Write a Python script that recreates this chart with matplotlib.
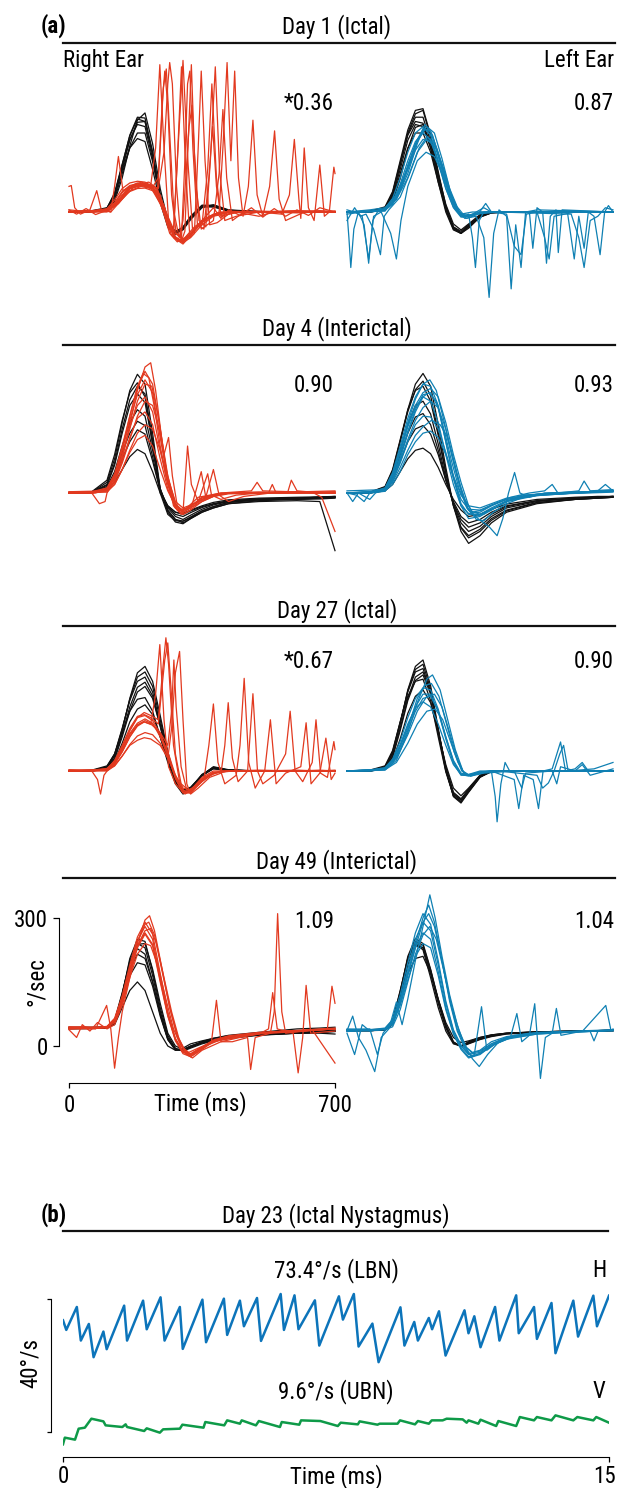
import matplotlib.pyplot as plt
from matplotlib import font_manager
from matplotlib.lines import Line2D

# head impulse sample times (ms); head traces and smooth eye traces use this grid
HEAD_T = [0, 60, 100, 120, 140, 160, 180, 200, 220, 240, 260, 280, 300, 320, 350, 380, 420, 500, 600, 660, 700]

# ---- Day 1 (ictal) ----
d1_head_right = [
    [0, 1, 6, 40, 110, 180, 222, 220, 140, 40, -30, -50, -38, -12, 15, 16, 4, 0, 0, 0, 0],
    [0, 2, 8, 42, 108, 170, 205, 200, 125, 35, -30, -48, -35, -10, 16, 14, 3, 1, 0, 0, 0],
    [0, 0, 5, 30, 90, 150, 185, 185, 118, 32, -25, -45, -36, -12, 14, 12, 2, 0, 0, 0, 0],
    [0, 3, 10, 40, 98, 150, 172, 165, 100, 22, -35, -52, -40, -15, 12, 12, 4, 1, 0, 0, 0],
    [0, 1, 4, 25, 80, 155, 215, 232, 160, 55, -20, -50, -42, -18, 10, 17, 5, 1, 0, 0, 0],
    [0, 1, 7, 36, 100, 168, 210, 212, 140, 40, -28, -48, -38, -12, 15, 15, 3, 0, 0, 0, 0],
    [0, 2, 9, 45, 112, 178, 218, 212, 132, 36, -32, -50, -40, -14, 14, 14, 3, 0, 0, 0, 0],
]
d1_band_right = [
    [0, 3, 6, 22, 48, 62, 66, 64, 58, 30, -20, -58, -70, -55, -25, -8, 0, 2, 0, 3, 0],
    [5, 0, 4, 18, 40, 55, 60, 62, 55, 25, -25, -62, -72, -60, -30, -10, -2, 0, 3, 0, 2],
    [0, 2, 8, 28, 55, 68, 72, 70, 60, 35, -10, -50, -65, -50, -20, -5, 0, 0, -2, 0, 0],
    [2, 0, 3, 15, 35, 48, 55, 56, 50, 20, -28, -60, -68, -52, -22, -6, 2, 0, 0, 2, 0],
]
d1_eye_right = [
    [(0, 0), (80, 2), (100, 5), (120, 20), (140, 45), (160, 60), (180, 68), (200, 66), (215, 62), (228, 150),
     (239, 345), (250, 150), (262, -20), (275, -55), (285, 120), (296, 340), (307, 100), (318, -60), (330, -50),
     (340, 150), (348, 330), (358, 120), (370, -30), (390, -25), (420, -5), (460, 2), (520, 0), (600, 3), (700, 0)],
    [(0, 0), (100, 3), (130, 25), (150, 50), (170, 62), (190, 70), (210, 64), (235, 55), (250, 140), (260, 300),
     (265, 350), (272, 300), (283, 60), (295, -70), (305, -45), (313, 150), (322, 345), (330, 140), (342, -20),
     (360, -35), (372, 120), (385, 340), (396, 100), (410, -20), (440, -10), (500, 0), (700, 0)],
    [(0, 0), (100, 0), (130, 20), (160, 55), (190, 62), (220, 55), (245, 10), (265, -50), (285, -70), (305, -60),
     (330, -35), (360, -15), (395, 0), (405, 150), (416, 350), (426, 120), (436, 330), (446, 80), (458, -10),
     (472, 60), (484, 215), (495, 40), (510, -10), (528, 60), (541, 190), (553, 30), (570, -20), (620, 0), (700, 0)],
    [(0, 0), (90, 5), (110, 0), (140, 30), (170, 58), (200, 66), (225, 60), (250, 15), (275, -60), (300, -75),
     (320, -55), (350, -20), (400, 0), (500, 0), (560, -5), (580, 40), (593, 170), (605, 30), (610, -15),
     (619, 150), (630, 10), (645, -20), (660, 110), (672, -10), (685, 0), (697, 105), (700, 90)],
    [(0, 60), (6, 62), (15, 10), (30, -5), (55, 5), (73, 50), (85, 5), (110, 0), (120, 60), (130, 130), (142, 50),
     (160, 58), (185, 65), (210, 70), (232, 55), (255, 0), (280, -60), (300, -68), (330, -40), (370, -10),
     (420, 0), (700, 2)],
    [(0, 0), (100, 2), (130, 25), (160, 55), (190, 65), (215, 60), (240, 40), (262, -40), (275, -40), (287, 150),
     (300, 355), (312, 130), (325, -40), (350, -30), (365, 100), (376, 300), (388, 80), (400, -10), (440, 0),
     (500, -10), (540, 0), (700, 0)],
    [(0, 0), (100, 3), (130, 22), (160, 55), (190, 64), (220, 58), (235, 80), (245, 250), (252, 330), (260, 250),
     (270, 40), (282, -50), (296, -60), (305, 120), (312, 300), (318, 330), (326, 150), (338, -30), (355, -40),
     (368, 80), (378, 200), (388, 60), (400, -10), (440, 0), (700, 0)],
    [(0, 0), (100, 2), (130, 20), (160, 50), (190, 60), (215, 55), (232, 40), (240, 150), (248, 290), (256, 335),
     (264, 200), (276, 0), (290, -60), (300, -20), (316, 200), (324, 250), (334, 60), (348, -40), (380, -20),
     (395, 90), (405, 240), (415, 80), (430, -20), (460, 0), (700, 0)],
    [(0, 5), (20, -5), (45, 8), (70, -6), (100, 4), (130, 24), (160, 56), (190, 64), (220, 58), (245, 15),
     (270, -55), (295, -70), (320, -55), (350, -20), (380, 10), (400, -15), (420, 5), (450, -8), (480, 10),
     (510, -12), (540, 8), (570, -10), (600, 5), (630, -8), (660, 10), (700, 0)],
]
d1_head_left = [
    [0, 0, 8, 40, 110, 185, 230, 238, 175, 90, 10, -38, -50, -35, -12, -2, 0, 0, 0, 0, 0],
    [0, 1, 10, 45, 115, 180, 212, 208, 150, 70, 0, -42, -50, -32, -10, -2, 0, 0, 0, 0, 0],
    [0, 0, 6, 32, 90, 150, 185, 185, 140, 70, 8, -35, -45, -30, -8, 0, 0, 0, 0, 0, 0],
    [0, 2, 12, 48, 120, 192, 238, 242, 180, 95, 15, -35, -50, -38, -12, -2, 0, 0, 0, 0, 0],
    [0, 0, 5, 25, 78, 148, 198, 205, 160, 88, 18, -28, -42, -28, -6, 0, 0, 0, 0, 0, 0],
    [0, 1, 9, 42, 112, 182, 222, 222, 165, 80, 5, -40, -50, -34, -10, -1, 0, 0, 0, 0, 0],
    [0, 0, 7, 36, 100, 168, 205, 200, 150, 78, 10, -36, -48, -32, -9, -1, 0, 0, 0, 0, 0],
]
d1_band_left = [
    [0, 0, 5, 20, 55, 110, 160, 195, 190, 140, 75, 20, -8, -10, -3, 0, 0, 0, 0, 0, 0],
    [0, 2, 6, 25, 65, 120, 165, 185, 170, 115, 55, 12, -10, -8, 0, 0, 0, 0, 0, 0, 0],
    [0, 0, 4, 18, 50, 100, 145, 170, 165, 120, 65, 18, -5, -8, -2, 0, 0, 0, 0, 0, 0],
    [0, 1, 8, 32, 80, 140, 185, 200, 180, 120, 55, 10, -12, -10, -2, 0, 0, 0, 0, 0, 0],
]
d1_eye_left = [
    [(0, 0), (5, -60), (10, -130), (18, -40), (30, 0), (45, -30), (57, -120), (68, -20), (80, 0), (100, 8),
     (130, 30), (160, 90), (185, 160), (205, 205), (225, 180), (245, 120), (265, 55), (285, 10), (305, -10),
     (320, -5), (330, -60), (338, -130), (348, -20), (360, 0), (420, 0), (700, 0)],
    [(0, -20), (10, -5), (20, 10), (35, -10), (50, -5), (70, -40), (88, -100), (98, -10), (110, 5), (140, 35),
     (165, 90), (190, 150), (210, 175), (230, 160), (250, 110), (270, 50), (290, 5), (310, -15), (340, -10),
     (360, -60), (374, -200), (386, -50), (400, 5), (420, -10), (432, -180), (444, -30), (458, -130), (470, 0),
     (500, 5), (700, 0)],
    [(0, 5), (20, 0), (40, -10), (57, -110), (70, -10), (90, 0), (115, -50), (130, -110), (142, -20), (160, 60),
     (185, 120), (208, 140), (230, 130), (255, 80), (280, 25), (300, -5), (330, 0), (480, 0), (489, -85),
     (500, 10), (515, 0), (525, -120), (535, -10), (550, 5), (556, -95), (566, 5), (700, 0)],
    [(0, 0), (60, 5), (100, 10), (130, 40), (160, 105), (185, 170), (205, 195), (225, 175), (245, 115), (265, 50),
     (285, 8), (305, -12), (330, -5), (360, 10), (380, 0), (580, 0), (598, -110), (610, -10), (624, -85),
     (635, 0), (650, -10), (666, -100), (678, 0), (688, 15), (700, 0)],
    [(0, -5), (40, 0), (100, 5), (130, 30), (160, 80), (185, 140), (210, 170), (235, 150), (255, 100), (275, 40),
     (295, 0), (315, -15), (345, -5), (365, 20), (380, 0), (420, -5), (440, -80), (458, -100), (472, -5),
     (500, 0), (520, -60), (532, -110), (545, -10), (600, 0), (700, 0)],
    [(0, 0), (100, 2), (130, 38), (160, 100), (185, 165), (210, 200), (230, 185), (250, 125), (270, 55),
     (290, 12), (310, -10), (340, -5), (400, 0), (590, -5), (610, -60), (624, -130), (640, -20), (660, -10),
     (680, 10), (700, 5)],
]

# ---- Day 4 (interictal) ----
d4_head_right = [
    [0, 2, 25, 80, 165, 240, 278, 255, 140, 10, -45, -68, -72, -60, -45, -35, -25, -18, -15, -14, -12],
    [0, 3, 30, 90, 170, 235, 258, 225, 115, 0, -50, -65, -66, -58, -42, -32, -22, -16, -14, -12, -10],
    [0, 1, 18, 65, 140, 205, 232, 212, 115, 10, -40, -62, -70, -60, -45, -35, -25, -20, -18, -20, -135],
    [0, 2, 15, 50, 110, 165, 195, 180, 100, 10, -35, -55, -62, -52, -38, -28, -20, -15, -12, -10, -8],
    [0, 0, 10, 35, 80, 120, 148, 138, 75, 5, -30, -45, -50, -42, -32, -25, -18, -14, -12, -10, -10],
    [0, 1, 8, 25, 55, 85, 102, 92, 50, 0, -30, -45, -48, -40, -30, -22, -16, -12, -10, -9, -8],
    [0, 2, 20, 70, 150, 218, 250, 232, 125, 5, -42, -62, -66, -56, -42, -32, -22, -16, -14, -12, -11],
    [0, 1, 12, 42, 95, 140, 168, 158, 85, 5, -32, -50, -55, -46, -34, -26, -19, -14, -12, -10, -10],
]
d4_band_right = [
    [0, 2, 10, 40, 100, 170, 230, 265, 235, 130, 30, -30, -45, -35, -20, -8, 0, 2, 0, 2, 0],
    [0, 0, 8, 35, 90, 155, 205, 225, 190, 100, 20, -35, -50, -40, -20, -8, -2, 0, 2, 0, 0],
    [2, 0, 6, 28, 75, 130, 175, 190, 160, 80, 10, -35, -45, -35, -15, -5, 0, 2, 0, 0, 3],
    [0, 3, 12, 45, 110, 180, 245, 285, 255, 150, 40, -25, -42, -30, -12, -5, 0, 0, 3, 0, 0],
    [0, 0, 5, 20, 55, 95, 125, 135, 110, 55, 5, -30, -40, -30, -15, -5, 0, 0, 0, 0, 0],
]
d4_eye_right = [
    [(0, 0), (60, 0), (80, -25), (95, -20), (100, 0), (120, 30), (140, 80), (160, 160), (180, 240), (200, 295),
     (215, 305), (228, 240), (245, 120), (260, 30), (275, -30), (295, -50), (315, -35), (350, -10), (400, 0),
     (700, 0)],
    [(0, 2), (70, 0), (100, 8), (120, 35), (140, 85), (160, 150), (180, 215), (200, 255), (218, 250), (235, 180),
     (250, 90), (262, 130), (272, 40), (285, -30), (300, -45), (312, 110), (322, 20), (340, -20), (365, 45),
     (375, -5), (400, -15), (440, -5), (500, 0), (700, 5)],
    [(0, 0), (100, 5), (120, 25), (140, 70), (160, 125), (180, 180), (200, 215), (220, 205), (240, 140),
     (255, 60), (270, 0), (285, -40), (300, -50), (320, -40), (348, 50), (360, -10), (380, 55), (395, -5),
     (420, -20), (460, -8), (530, 0), (700, 3)],
    [(0, 0), (100, 2), (120, 20), (140, 55), (160, 100), (180, 140), (200, 160), (220, 150), (240, 100),
     (260, 35), (280, -20), (300, -35), (330, -25), (370, -10), (420, 0), (525, 0), (535, 20), (545, 0),
     (575, 0), (585, 30), (600, 5), (640, 2), (665, -10), (700, -90)],
    [(0, 3), (100, 5), (120, 40), (140, 100), (160, 180), (180, 250), (195, 280), (210, 270), (225, 200),
     (240, 110), (255, 40), (270, -10), (290, -40), (310, -35), (340, -10), (400, 0), (480, 5), (495, 25),
     (510, 5), (700, 0)],
]
d4_head_left = [
    [0, 1, 12, 50, 120, 195, 255, 280, 250, 160, 60, -30, -90, -118, -100, -70, -45, -25, -15, -12, -10],
    [0, 2, 15, 55, 125, 195, 240, 250, 215, 135, 45, -30, -80, -100, -85, -60, -40, -22, -15, -12, -10],
    [0, 0, 10, 40, 100, 160, 205, 215, 185, 115, 35, -25, -70, -90, -78, -55, -35, -20, -12, -10, -8],
    [0, 1, 8, 30, 75, 120, 150, 158, 138, 90, 30, -20, -55, -70, -62, -45, -30, -18, -12, -10, -8],
    [0, 0, 5, 20, 50, 80, 100, 105, 92, 60, 20, -15, -40, -55, -50, -38, -26, -15, -10, -8, -8],
    [0, 1, 14, 52, 122, 190, 242, 262, 228, 142, 50, -28, -82, -105, -90, -64, -42, -23, -15, -12, -10],
    [0, 0, 9, 36, 88, 140, 178, 186, 160, 100, 30, -24, -62, -80, -70, -50, -32, -18, -12, -10, -8],
]
d4_band_left = [
    [0, 1, 8, 35, 85, 145, 195, 230, 235, 200, 120, 40, -25, -50, -50, -35, -18, -5, 0, 3, 5],
    [0, 2, 10, 40, 95, 155, 200, 225, 215, 165, 90, 20, -30, -48, -45, -30, -15, -3, 2, 4, 5],
    [0, 0, 6, 28, 70, 120, 160, 180, 178, 150, 95, 35, -15, -38, -40, -28, -15, -4, 0, 2, 4],
    [0, 2, 12, 48, 110, 175, 225, 255, 250, 205, 120, 35, -30, -60, -55, -38, -20, -6, 0, 3, 5],
    [0, 0, 5, 20, 50, 90, 120, 140, 145, 130, 90, 40, -5, -30, -35, -25, -12, -3, 0, 2, 4],
]
d4_eye_left = [
    [(0, 0), (15, -20), (30, 0), (60, -15), (75, 0), (100, 10), (120, 45), (140, 100), (160, 165), (180, 220),
     (200, 255), (218, 265), (235, 240), (255, 170), (275, 90), (295, 20), (315, -35), (335, -55), (360, -50),
     (390, -35), (420, -20), (470, -5), (530, 0), (700, 5)],
    [(0, 0), (100, 5), (120, 30), (140, 75), (160, 125), (180, 170), (200, 200), (220, 215), (240, 200),
     (260, 150), (280, 80), (300, 10), (320, -40), (345, -60), (375, -80), (395, -100), (410, -60), (425, 0),
     (441, 48), (455, 0), (480, -10), (520, 0), (700, 5)],
    [(0, 5), (100, 8), (120, 25), (140, 60), (160, 100), (180, 135), (200, 155), (222, 170), (245, 160),
     (262, 135), (275, 95), (290, 40), (310, -15), (330, -45), (355, -40), (390, -25), (430, -10), (480, 0),
     (520, 5), (540, 20), (555, 0), (610, 5), (624, 28), (640, 5), (700, 8)],
    [(0, 0), (100, 6), (120, 40), (140, 95), (160, 160), (180, 205), (200, 235), (220, 245), (240, 225),
     (260, 165), (280, 90), (300, 25), (320, -30), (340, -62), (360, -65), (385, -45), (420, -25), (470, -8),
     (600, 0), (660, 5), (680, 20), (700, 5)],
    [(0, 0), (25, -5), (45, -20), (60, 0), (100, 4), (120, 30), (140, 80), (160, 140), (180, 190), (200, 225),
     (215, 235), (235, 215), (255, 150), (275, 75), (295, 10), (320, -40), (350, -50), (380, -40), (420, -20),
     (460, -5), (700, 2)],
]

# ---- Day 27 (ictal) ----
d27_head_right = [
    [0, 1, 8, 35, 95, 170, 230, 245, 210, 130, 45, -20, -50, -45, -10, 10, 3, 0, 0, 0, 0],
    [0, 1, 10, 40, 100, 165, 210, 220, 185, 110, 35, -25, -52, -40, -8, 8, 2, 0, 0, 0, 0],
    [0, 0, 6, 28, 80, 140, 185, 198, 170, 105, 35, -18, -45, -40, -10, 6, 2, 0, 0, 0, 0],
    [0, 2, 12, 40, 90, 140, 168, 172, 140, 80, 20, -30, -54, -42, -12, 8, 2, 0, 0, 0, 0],
    [0, 0, 5, 22, 65, 115, 145, 155, 132, 80, 25, -20, -45, -38, -10, 5, 1, 0, 0, 0, 0],
    [0, 1, 9, 38, 98, 168, 220, 232, 198, 120, 40, -22, -52, -42, -9, 9, 2, 0, 0, 0, 0],
    [0, 0, 7, 30, 86, 150, 196, 208, 176, 105, 32, -22, -48, -40, -10, 6, 1, 0, 0, 0, 0],
]
d27_band_right = [
    [0, 0, 4, 18, 45, 80, 108, 118, 110, 85, 45, -10, -45, -50, -25, -5, 0, 0, 0, 0, 0],
    [0, 2, 6, 22, 55, 95, 125, 130, 118, 88, 40, -15, -50, -52, -22, -5, 0, 2, 0, 0, 2],
    [2, 0, 3, 12, 35, 62, 82, 90, 85, 65, 30, -10, -40, -45, -20, -4, 0, 0, 2, 0, 0],
    [0, 1, 5, 20, 50, 88, 112, 122, 112, 80, 35, -18, -52, -48, -18, -3, 0, 0, 0, 2, 0],
]
d27_eye_right = [
    [(0, 0), (60, 0), (75, -20), (83, -54), (92, -10), (100, 0), (120, 15), (140, 45), (160, 80), (180, 105),
     (198, 115), (215, 110), (228, 180), (239, 296), (250, 120), (262, 10), (280, -30), (300, -50), (320, -45),
     (350, -15), (380, 0), (700, 0)],
    [(0, 0), (100, 2), (120, 20), (140, 55), (160, 95), (180, 125), (198, 137), (215, 130), (235, 120),
     (248, 250), (255, 312), (262, 250), (275, 60), (290, -20), (305, -54), (325, -45), (355, -20), (368, 60),
     (380, 157), (392, 20), (410, -30), (440, -10), (450, 60), (461, 217), (473, 20), (490, -40), (515, 0),
     (530, 120), (545, -30), (570, -5), (610, 10), (624, 113), (637, -30), (660, -5), (676, 77), (690, -20),
     (700, -5)],
    [(0, 0), (100, 0), (120, 12), (140, 35), (160, 60), (180, 72), (198, 78), (215, 75), (240, 60), (260, 30),
     (270, 100), (280, 230), (291, 280), (300, 120), (310, -30), (320, -54), (340, -40), (370, -15), (400, -5),
     (410, 60), (419, 160), (430, 30), (445, -25), (470, 0), (484, 181), (496, 0), (510, -30), (540, -10),
     (570, 40), (582, 140), (595, 0), (615, -25), (640, 20), (650, 120), (662, -5), (680, -15), (697, 69),
     (700, 50)],
    [(0, 3), (100, 2), (120, 18), (140, 50), (160, 85), (180, 108), (198, 115), (218, 108), (240, 90), (260, 60),
     (270, 140), (276, 260), (282, 150), (295, 10), (310, -45), (330, -40), (360, -15), (400, 0), (700, 0)],
    [(0, 0), (100, 4), (120, 25), (140, 60), (160, 100), (180, 128), (198, 132), (215, 125), (235, 110),
     (252, 260), (260, 300), (268, 200), (280, 40), (295, -30), (315, -45), (340, -30), (380, -5), (430, 0),
     (700, 0)],
]
d27_head_left = [
    [0, 0, 8, 40, 110, 190, 245, 260, 200, 100, 5, -60, -75, -50, -15, 0, 0, 0, 0, 0, 0],
    [0, 1, 10, 45, 115, 185, 232, 240, 185, 90, 0, -55, -68, -45, -12, 0, 0, 0, 0, 0, 0],
    [0, 0, 6, 32, 95, 165, 212, 225, 180, 95, 10, -50, -65, -42, -10, 0, 0, 0, 0, 0, 0],
    [0, 2, 12, 48, 115, 175, 210, 215, 165, 80, -2, -58, -72, -48, -14, -2, 0, 0, 0, 0, 0],
    [0, 0, 5, 25, 75, 135, 175, 190, 160, 90, 15, -40, -58, -40, -10, 0, 0, 0, 0, 0, 0],
    [0, 1, 9, 42, 112, 188, 238, 250, 192, 95, 3, -58, -72, -48, -14, -1, 0, 0, 0, 0, 0],
    [0, 0, 7, 35, 100, 170, 220, 232, 185, 95, 8, -52, -68, -44, -11, 0, 0, 0, 0, 0, 0],
]
d27_band_left = [
    [0, 0, 4, 18, 50, 95, 140, 170, 175, 140, 80, 25, -5, -10, -3, 0, 0, 0, 0, 0, 0],
    [0, 2, 8, 28, 70, 125, 170, 195, 190, 145, 80, 22, -8, -12, -3, 0, 0, 0, 0, 0, 0],
    [0, 0, 5, 22, 58, 105, 150, 180, 180, 140, 75, 18, -10, -10, -2, 0, 0, 0, 0, 0, 0],
    [0, 1, 6, 25, 62, 110, 148, 162, 150, 110, 60, 15, -8, -8, 0, 0, 0, 0, 0, 0, 0],
]
d27_eye_left = [
    [(0, 0), (100, 2), (130, 25), (160, 90), (185, 160), (210, 215), (225, 225), (245, 190), (265, 120),
     (285, 50), (305, 0), (325, -12), (350, -5), (380, 0), (390, -60), (395, -119), (405, -30), (416, 20),
     (428, 0), (700, 0)],
    [(0, 0), (100, 5), (130, 30), (160, 85), (185, 140), (210, 175), (230, 180), (250, 150), (270, 90), (290, 30),
     (310, -10), (335, -8), (380, 0), (440, -20), (452, -88), (465, -10), (490, -20), (504, -88), (516, 0),
     (540, 5), (562, 68), (575, 0), (600, 5), (619, 20), (635, 0), (700, 0)],
    [(0, 0), (100, 3), (130, 20), (160, 65), (185, 110), (210, 140), (232, 145), (252, 120), (272, 70), (292, 20),
     (312, -10), (340, -5), (400, 0), (500, -10), (515, -40), (530, -28), (545, 0), (560, 40), (570, 60),
     (582, 0), (650, 5), (700, 20)],
    [(0, 0), (100, 5), (130, 35), (160, 100), (185, 170), (205, 200), (222, 205), (242, 175), (262, 110),
     (282, 45), (302, 0), (325, -12), (360, -5), (440, 0), (460, -40), (470, -5), (540, 0), (552, -30),
     (562, 10), (600, 0), (619, 15), (640, -10), (700, 5)],
]

# ---- Day 49 (interictal), values as read on the °/sec scale ----
d49_head_right = [
    [42, 42, 42, 55, 120, 205, 250, 245, 175, 90, 25, -5, -12, -5, 5, 12, 18, 25, 30, 33, 35],
    [42, 43, 44, 60, 125, 195, 228, 215, 150, 75, 15, -10, -10, 0, 8, 14, 20, 26, 30, 32, 34],
    [40, 41, 42, 52, 105, 165, 195, 190, 140, 70, 15, -8, -8, 0, 10, 15, 22, 28, 32, 35, 38],
    [42, 42, 43, 50, 90, 130, 150, 130, 80, 30, 0, -10, -5, 5, 12, 18, 24, 28, 30, 30, 28],
    [44, 44, 45, 58, 118, 195, 238, 240, 180, 100, 30, 0, -8, -2, 10, 18, 25, 32, 40, 42, 44],
    [42, 42, 43, 57, 122, 200, 240, 230, 165, 82, 20, -8, -11, -3, 7, 13, 19, 26, 30, 32, 34],
    [41, 41, 42, 54, 112, 180, 215, 205, 150, 75, 18, -8, -10, -2, 8, 14, 20, 27, 31, 34, 36],
]
d49_band_right = [
    [42, 42, 45, 62, 110, 180, 245, 280, 250, 160, 75, 15, -15, -22, -5, 12, 22, 30, 35, 38, 40],
    [40, 42, 44, 58, 100, 165, 230, 262, 235, 150, 70, 12, -18, -25, -8, 10, 20, 28, 34, 38, 40],
    [44, 42, 46, 65, 118, 190, 255, 290, 262, 170, 80, 18, -12, -18, -2, 14, 24, 32, 36, 40, 42],
    [42, 40, 44, 60, 105, 172, 235, 265, 238, 155, 72, 15, -14, -20, -4, 12, 22, 30, 35, 38, 40],
]
d49_eye_right = [
    [(0, 42), (40, 45), (70, 40), (99, 95), (110, 40), (120, -52), (130, 20), (140, 80), (160, 160), (180, 240),
     (200, 295), (212, 305), (225, 270), (245, 180), (265, 90), (285, 20), (305, -15), (320, -25), (345, -10),
     (375, 10), (388, 107), (400, 10), (430, 10), (470, 20), (478, -55), (490, 20), (530, 30), (540, 80),
     (549, 310), (560, 80), (570, 30), (620, 35), (700, 40)],
    [(0, 40), (100, 42), (120, 55), (140, 100), (160, 170), (180, 235), (200, 270), (215, 275), (230, 240),
     (250, 160), (270, 80), (290, 15), (310, -20), (325, -28), (350, -10), (400, 10), (450, 20), (500, 28),
     (525, 40), (536, 125), (548, 40), (590, 30), (603, -63), (615, 20), (624, 142), (636, 30), (700, 35)],
    [(0, 45), (100, 44), (120, 60), (140, 110), (160, 180), (180, 245), (200, 285), (210, 290), (225, 260),
     (245, 175), (265, 90), (285, 25), (305, -10), (320, -20), (345, -5), (400, 15), (500, 30), (600, 35),
     (680, 40), (692, 140), (700, 100)],
    [(0, 38), (20, 20), (35, 50), (55, 35), (75, 55), (100, 40), (120, 50), (140, 95), (160, 160), (180, 215),
     (200, 240), (215, 235), (235, 185), (255, 110), (275, 40), (295, 0), (315, -15), (340, -5), (380, 10),
     (440, 20), (500, 30), (560, 35), (640, 38), (700, -40)],
]
d49_head_left = [
    [36, 36, 38, 55, 125, 210, 252, 240, 180, 110, 50, 10, -2, 5, 15, 22, 28, 32, 34, 35, 36],
    [36, 36, 37, 50, 110, 190, 235, 230, 175, 105, 45, 8, 0, 8, 18, 25, 30, 33, 35, 36, 36],
    [38, 38, 40, 60, 130, 205, 240, 225, 160, 90, 35, 5, 0, 10, 20, 26, 30, 33, 35, 36, 38],
    [36, 36, 38, 52, 105, 170, 205, 210, 170, 110, 55, 20, 8, 12, 20, 26, 30, 33, 35, 35, 36],
    [36, 36, 38, 53, 118, 200, 245, 236, 178, 108, 48, 9, -1, 6, 16, 23, 29, 32, 34, 35, 36],
    [37, 37, 39, 57, 128, 205, 242, 230, 170, 100, 42, 7, -1, 8, 18, 24, 29, 33, 35, 36, 37],
]
d49_band_left = [
    [36, 36, 40, 58, 110, 180, 250, 290, 270, 190, 100, 35, 0, -20, -15, 5, 20, 30, 34, 36, 36],
    [38, 36, 40, 55, 100, 165, 230, 265, 250, 175, 90, 30, -5, -25, -18, 2, 18, 28, 33, 35, 38],
    [36, 38, 42, 62, 120, 195, 265, 310, 285, 200, 105, 38, 2, -18, -12, 5, 20, 30, 34, 36, 37],
    [34, 36, 38, 52, 95, 155, 210, 240, 230, 165, 85, 28, -8, -28, -20, 0, 16, 28, 33, 35, 36],
]
d49_eye_left = [
    [(0, 36), (15, 70), (30, 20), (50, -10), (73, -60), (90, 20), (110, 40), (130, 103), (145, 50), (160, 110),
     (180, 200), (200, 280), (218, 354), (232, 300), (250, 210), (270, 120), (290, 50), (310, 0), (330, -30),
     (348, -48), (370, -20), (400, 10), (440, 25), (500, 30), (700, 36)],
    [(0, 40), (100, 38), (120, 45), (140, 85), (160, 150), (180, 215), (200, 260), (218, 280), (235, 250),
     (255, 175), (275, 95), (295, 35), (315, -5), (335, -20), (354, 92), (368, -10), (390, 5), (430, 20),
     (447, 76), (460, 10), (480, 25), (494, 99), (509, -76), (522, 20), (540, 30), (551, 88), (563, 25),
     (620, 35), (681, 95), (695, 35), (700, 40)],
    [(0, 30), (20, -20), (40, 50), (60, 35), (100, 40), (120, 50), (140, 100), (160, 170), (180, 230), (200, 290),
     (215, 310), (230, 280), (250, 200), (270, 110), (290, 40), (310, 0), (330, -15), (350, -10), (380, 10),
     (420, 22), (480, 30), (560, 32), (640, 34), (650, 12), (660, 34), (700, 38)],
    [(0, 38), (60, 40), (80, -20), (95, 30), (120, 60), (140, 105), (160, 170), (180, 240), (200, 300),
     (215, 330), (230, 290), (250, 200), (270, 105), (290, 35), (310, -5), (330, -25), (355, -15), (390, 5),
     (440, 22), (500, 32), (700, 38)],
]

# ---- (b) Day 23 ictal nystagmus ----
nyst_h = [(0.00, 33.6), (0.09, 30.7), (0.38, 37.6), (0.49, 27.5), (0.71, 32.5), (0.84, 22.5), (1.11, 30.2),
          (1.20, 24.9), (1.68, 38.0), (1.76, 27.5), (2.20, 39.5), (2.30, 30.9), (2.68, 40.5), (2.79, 27.5),
          (3.21, 37.6), (3.29, 25.0), (3.83, 39.8), (3.93, 27.0), (4.42, 40.1), (4.51, 29.2), (4.86, 39.5),
          (4.97, 31.8), (5.33, 40.3), (5.44, 27.4), (5.98, 41.5), (6.07, 30.7), (6.36, 41.1), (6.47, 30.9),
          (6.92, 39.6), (7.04, 26.0), (7.58, 40.8), (7.69, 33.8), (7.99, 41.5), (8.12, 25.7), (8.50, 32.6),
          (8.67, 21.0), (9.27, 37.5), (9.38, 26.0), (9.65, 33.1), (9.75, 27.5), (10.05, 34.3), (10.14, 30.9),
          (10.33, 36.3), (10.51, 23.0), (11.03, 36.6), (11.14, 29.7), (11.30, 34.8), (11.47, 25.5),
          (11.87, 37.6), (11.99, 27.5), (12.45, 41.1), (12.52, 29.7), (12.94, 37.6), (13.02, 28.0),
          (13.42, 38.8), (13.53, 23.7), (14.02, 39.5), (14.15, 28.7), (14.57, 41.0), (14.67, 31.8),
          (15.00, 41.0)]
nyst_v = [(0.00, -3.7), (0.05, -1.7), (0.33, -2.3), (0.43, 1.0), (0.60, 1.3), (0.78, 4.0), (1.11, 3.2),
          (1.17, 2.0), (1.63, 1.5), (1.72, 2.3), (1.76, 1.5), (2.23, 0.3), (2.30, 1.1), (2.66, -0.2), (2.75, 0.8),
          (3.21, 1.0), (3.28, 2.2), (3.86, 1.3), (3.91, 3.0), (4.43, 2.0), (4.51, 3.5), (4.86, 2.5), (4.91, 3.5),
          (5.30, 2.0), (5.38, 3.3), (5.96, 1.5), (6.01, 3.0), (6.49, 2.2), (6.54, 3.5), (7.07, 3.3), (7.55, 1.8),
          (7.63, 2.8), (8.10, 2.3), (8.15, 3.2), (8.64, 2.2), (8.70, 2.5), (9.19, 2.5), (9.26, 3.5), (9.67, 2.3),
          (9.75, 3.3), (10.05, 2.5), (10.13, 3.5), (10.43, 3.5), (10.54, 4.0), (10.98, 3.8), (11.09, 2.8),
          (11.14, 3.5), (11.41, 2.5), (11.47, 3.7), (11.90, 1.8), (11.96, 3.3), (12.45, 1.8), (12.55, 4.5),
          (12.94, 3.5), (13.02, 4.5), (13.42, 3.5), (13.53, 5.0), (14.02, 3.5), (14.13, 4.5), (14.57, 3.5),
          (14.65, 4.5), (15.00, 2.8)]
nyst_ticks = [0, 15]

RED = "#e2391f"
BLUE = "#0f80b3"
BLUE_B = "#0c74ba"
GREEN = "#0e9a48"
BLACK = "#111111"

# narrow sans for all labels, first one found wins
installed = {f.name for f in font_manager.fontManager.ttflist}
narrow = ["Arial Narrow", "Liberation Sans Narrow", "Roboto Condensed", "Archivo Narrow", "PT Sans Narrow",
          "Pragati Narrow", "Fira Sans Condensed", "IBM Plex Sans Condensed", "Encode Sans Condensed",
          "Asap Condensed", "Barlow Semi Condensed", "Open Sans Condensed"]
chosen = [n for n in narrow if n in installed][:1] or ["Liberation Sans"]
plt.rcParams["font.family"] = chosen + ["DejaVu Sans"]
FS = 16.5

W, H = 617, 1488
fig = plt.figure(figsize=(W / 100, H / 100), dpi=100)


def px_axes(left, top, width, height):
    return fig.add_axes([left / W, 1 - (top + height) / H, width / W, height / H])


def ftext(x, y, s, **kw):
    kw.setdefault("fontsize", FS)
    kw.setdefault("va", "baseline")
    fig.text(x / W, 1 - y / H, s, **kw)


def hline(x0, x1, y, lw=1.6):
    fig.add_artist(Line2D([x0 / W, x1 / W], [1 - y / H, 1 - y / H], color=BLACK, lw=lw))


SCALE = 0.427          # px per °/s
YTOP, YBOT = 420, -250
PANEL_X = (69, 347)
PANEL_W = 266

rows = [
    ("Day 1 (Ictal)", 33, 43, 212, 110, "*0.36", "0.87",
     d1_head_right, d1_band_right, d1_eye_right, d1_head_left, d1_band_left, d1_eye_left),
    ("Day 4 (Interictal)", 335, 345, 493, 392, "0.90", "0.93",
     d4_head_right, d4_band_right, d4_eye_right, d4_head_left, d4_band_left, d4_eye_left),
    ("Day 27 (Ictal)", 617, 626, 771, 668, "*0.67", "0.90",
     d27_head_right, d27_band_right, d27_eye_right, d27_head_left, d27_band_left, d27_eye_left),
    ("Day 49 (Interictal)", 868, 878, 1046, 928, "1.09", "1.04",
     d49_head_right, d49_band_right, d49_eye_right, d49_head_left, d49_band_left, d49_eye_left),
]

for i, (title, ty, ly, zero_px, gy, gain_r, gain_l, hr, br, er, hl, bl, el) in enumerate(rows):
    ftext(337, ty, title, ha="center")
    hline(63, 615, ly)
    ftext(334, gy, gain_r, ha="right")
    ftext(614, gy, gain_l, ha="right")
    last = i == len(rows) - 1
    ybot = -87 if last else YBOT
    for x0, heads, band, eyes, col in ((PANEL_X[0], hr, br, er, RED), (PANEL_X[1], hl, bl, el, BLUE)):
        ax = px_axes(x0, zero_px - YTOP * SCALE, PANEL_W, (YTOP - ybot) * SCALE)
        ax.set_xlim(0, 700)
        ax.set_ylim(ybot, YTOP)
        ax.patch.set_visible(False)
        for h in heads:
            ax.plot(HEAD_T, h, color=BLACK, lw=0.9, clip_on=False, solid_joinstyle="round")
        for b in band:
            ax.plot(HEAD_T, b, color=col, lw=0.9, clip_on=False, solid_joinstyle="round")
        for e in eyes:
            t, v = zip(*e)
            ax.plot(t, v, color=col, lw=0.9, clip_on=False, solid_joinstyle="round")
        for s in ax.spines.values():
            s.set_visible(False)
        ax.set_xticks([])
        ax.set_yticks([])
        if last and col == RED:
            ax.spines["left"].set_visible(True)
            ax.spines["left"].set_position(("outward", 7))
            ax.spines["left"].set_bounds(0, 300)
            ax.spines["bottom"].set_visible(True)
            ax.spines["bottom"].set_bounds(0, 700)
            ax.set_yticks([0, 300])
            ax.set_xticks([0, 700])
            ax.tick_params(axis="y", length=4.3, width=0.9, labelsize=FS, pad=4)
            ax.tick_params(axis="x", length=3.6, width=0.9, labelsize=FS, pad=4)

ftext(41, 33, "(a)", fontweight="bold")
ftext(63, 67, "Right Ear", ha="left")
ftext(614, 67, "Left Ear", ha="right")
ftext(200, 1110, "Time (ms)", ha="center")
ftext(37, 982, "°/sec", rotation=90, ha="center", va="center")

# (b) nystagmus traces
ftext(41, 1222, "(b)", fontweight="bold")
ftext(336, 1222, "Day 23 (Ictal Nystagmus)", ha="center")
hline(63, 608, 1231)
ftext(336, 1277, "73.4°/s (LBN)", ha="center")
ftext(606, 1277, "H", ha="right")
ftext(336, 1398, "9.6°/s (UBN)", ha="center")
ftext(605, 1398, "V", ha="right")
ftext(30, 1363, "40°/s", rotation=90, ha="center", va="center")

SB = 3.325             # px per °/s in (b)
axb = px_axes(63, 1240, 546, 1457 - 1240)
axb.set_xlim(0, 15)
axb.set_ylim(-(1457 - 1432) / SB, (1432 - 1240) / SB)
axb.patch.set_visible(False)
t, v = zip(*nyst_h)
axb.plot(t, v, color=BLUE_B, lw=1.8)
t, v = zip(*nyst_v)
axb.plot(t, v, color=GREEN, lw=1.8)
axb.spines["top"].set_visible(False)
axb.spines["right"].set_visible(False)
axb.spines["left"].set_position(("outward", 9))
axb.spines["left"].set_bounds(0, 40)
axb.spines["bottom"].set_bounds(0, 15)
axb.set_yticks([0, 40])
axb.set_yticklabels([])
axb.set_xticks(nyst_ticks)
axb.set_xticklabels([])
axb.tick_params(axis="y", length=3, width=0.9)
axb.tick_params(axis="x", length=3.6, width=0.9)
# end labels of the time axis; the right one is kept inside the canvas
ftext(63, 1483, str(nyst_ticks[0]), ha="center")
ftext(616, 1483, str(nyst_ticks[1]), ha="right")
ftext(336, 1483, "Time (ms)", ha="center")

fig.savefig("out.png", dpi=100)
